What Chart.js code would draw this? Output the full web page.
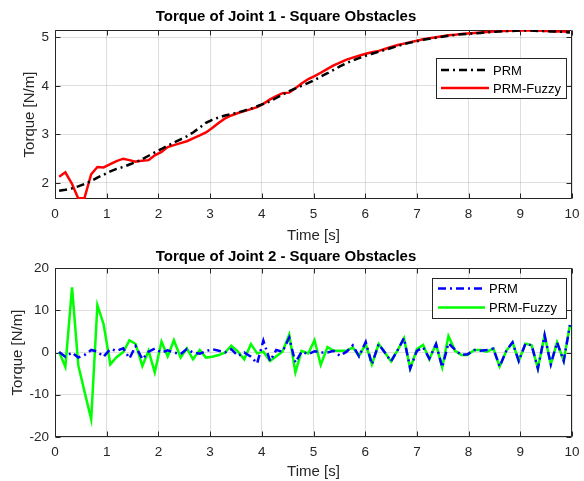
<!DOCTYPE html>
<html>
<head>
<meta charset="utf-8">
<script src="https://cdn.jsdelivr.net/npm/chart.js@4.4.0/dist/chart.umd.min.js"></script>
<style>
  body { margin: 0; background: #fff; }
  .panel { position: absolute; left: 0; }
</style>
</head>
<body>
<canvas id="joint1" class="panel" width="584" height="245" style="top:0"></canvas>
<canvas id="joint2" class="panel" width="584" height="236" style="top:245px"></canvas>
<script>
// sample times [s]
const timeS = [
  0.08, 0.20, 0.33, 0.45, 0.57, 0.70, 0.82, 0.94, 1.07, 1.19,
  1.32, 1.44, 1.56, 1.69, 1.81, 1.93, 2.06, 2.18, 2.30, 2.43,
  2.55, 2.67, 2.80, 2.92, 3.04, 3.17, 3.29, 3.41, 3.54, 3.66,
  3.79, 3.91, 4.03, 4.16, 4.28, 4.40, 4.53, 4.65, 4.77, 4.90,
  5.02, 5.14, 5.27, 5.39, 5.51, 5.64, 5.76, 5.88, 6.01, 6.13,
  6.26, 6.38, 6.50, 6.63, 6.75, 6.87, 7.00, 7.12, 7.24, 7.37,
  7.49, 7.61, 7.74, 7.86, 7.98, 8.11, 8.23, 8.35, 8.48, 8.60,
  8.73, 8.85, 8.97, 9.10, 9.22, 9.34, 9.47, 9.59, 9.71, 9.84,
  9.96
];

// joint 1 torque
const prmJoint1 = [
  1.84, 1.86, 1.89, 1.93, 1.98, 2.04, 2.11, 2.17, 2.24, 2.29,
  2.33, 2.38, 2.43, 2.49, 2.56, 2.63, 2.70, 2.77, 2.83, 2.90,
  2.96, 3.04, 3.14, 3.24, 3.30, 3.35, 3.39, 3.42, 3.45, 3.49,
  3.53, 3.58, 3.63, 3.68, 3.75, 3.82, 3.89, 3.95, 4.00, 4.06,
  4.12, 4.19, 4.26, 4.33, 4.40, 4.47, 4.52, 4.57, 4.62, 4.66,
  4.70, 4.74, 4.78, 4.82, 4.86, 4.89, 4.92, 4.95, 4.97, 4.99,
  5.01, 5.03, 5.05, 5.06, 5.07, 5.08, 5.09, 5.10, 5.11, 5.12,
  5.13, 5.13, 5.14, 5.14, 5.14, 5.13, 5.13, 5.12, 5.12, 5.11,
  5.10
];
const fuzzyJoint1 = [
  2.13, 2.22, 1.98, 1.68, 1.69, 2.18, 2.33, 2.32, 2.39, 2.45,
  2.50, 2.47, 2.44, 2.46, 2.47, 2.57, 2.64, 2.74, 2.78, 2.82,
  2.86, 2.92, 2.98, 3.04, 3.13, 3.24, 3.33, 3.39, 3.44, 3.48,
  3.52, 3.56, 3.63, 3.72, 3.79, 3.85, 3.86, 3.95, 4.05, 4.14,
  4.20, 4.27, 4.35, 4.42, 4.48, 4.54, 4.58, 4.62, 4.66, 4.69,
  4.72, 4.76, 4.80, 4.84, 4.87, 4.90, 4.93, 4.96, 4.98, 5.00,
  5.02, 5.04, 5.05, 5.07, 5.08, 5.09, 5.10, 5.11, 5.12, 5.13,
  5.13, 5.14, 5.14, 5.14, 5.14, 5.14, 5.13, 5.13, 5.12, 5.12,
  5.11
];

// joint 2 torque
const prmJoint2 = [
  0.1, -1.0, 0.0, -1.2, -0.6, 0.6, 0.2, -1.0, 0.8, 0.4,
  1.0, -1.4, 1.5, -1.6, 0.2, 0.9, 0.0, 0.5, 0.0, -0.4,
  0.8, 0.0, -0.3, 0.3, 0.8, 0.4, 0.0, 0.8, -0.8, 0.0,
  -1.0, -2.6, 2.8, -2.0, 0.6, 0.2, 3.5, -2.4, 0.2, -0.4,
  0.3, 0.0, 0.0, 0.4, -0.8, 0.2, 1.7, -0.9, 2.5, -2.8,
  2.0, 0.0, -2.1, 0.6, 3.4, -3.8, 0.4, 1.2, -1.4, 2.0,
  -3.5, 2.2, 0.6, -0.6, -0.4, 0.6, 0.4, 0.6, 0.9, -3.3,
  0.4, 2.4, -2.0, 2.1, 1.7, -3.8, 4.1, -2.8, 2.4, -2.0,
  6.5
];
const fuzzyJoint2 = [
  0.1, -3.4, 15.4, -3.0, -9.2, -15.8, 11.2, 6.7, -2.8, -1.1,
  0.1, 2.9, 2.0, -3.2, 0.4, -4.7, 2.6, -0.9, 2.9, -1.2,
  1.0, -1.6, 0.6, -1.2, -1.0, -0.6, 0.0, 1.6, 0.2, -1.6,
  2.0, -0.2, 0.2, -2.0, -0.9, 0.2, 4.2, -4.7, 0.4, -0.2,
  2.9, -2.9, 1.3, 0.4, 0.4, 0.4, 1.2, -0.8, 2.0, -2.8,
  2.0, 0.0, -2.1, 0.6, 3.4, -3.8, 0.8, 1.8, -1.6, 2.0,
  -3.5, 3.9, 0.4, -0.6, -0.6, 0.6, 0.6, 0.2, 0.9, -3.3,
  0.4, 2.4, -2.0, 2.1, 1.7, -3.8, 4.1, -2.8, 2.4, -2.0,
  6.5
];

// tick labels
const timeTicks = [0, 1, 2, 3, 4, 5, 6, 7, 8, 9, 10];
const joint1Ticks = [2, 3, 4, 5];
const joint2Ticks = [-20, -10, 0, 10, 20];

const FONT = "'Liberation Sans', Arial, Helvetica, sans-serif";
const INK = '#262626';

const toPoints = function(values) {
  return values.map((v, i) => ({ x: timeS[i], y: v }));
};

// matlab style box with inward ticks
const axesBox = {
  id: 'axesBox',
  beforeDatasetsDraw(chart) {
    const { ctx, chartArea: a, scales } = chart;
    const L = Math.round(a.left) + 0.5, R = Math.round(a.right) - 0.5;
    const T = Math.round(a.top) + 0.5, B = Math.round(a.bottom) - 0.5;
    ctx.save();
    ctx.strokeStyle = INK;
    ctx.lineWidth = 1;
    ctx.beginPath();
    scales.x.ticks.forEach(t => {
      const px = Math.round(scales.x.getPixelForValue(t.value)) + 0.5;
      ctx.moveTo(px, B); ctx.lineTo(px, B - 5);
      ctx.moveTo(px, T); ctx.lineTo(px, T + 5);
    });
    scales.y.ticks.forEach(t => {
      const py = Math.round(scales.y.getPixelForValue(t.value)) + 0.5;
      ctx.moveTo(L, py); ctx.lineTo(L + 5, py);
      ctx.moveTo(R, py); ctx.lineTo(R - 5, py);
    });
    ctx.rect(L, T, R - L, B - T);
    ctx.stroke();
    ctx.restore();
  }
};

// legend box drawn inside the axes
const boxLegend = {
  id: 'boxLegend',
  afterDraw(chart, args, opts) {
    const ctx = chart.ctx;
    ctx.save();
    ctx.fillStyle = '#fff';
    ctx.fillRect(opts.x, opts.y, opts.w, opts.h);
    ctx.strokeStyle = INK;
    ctx.lineWidth = 1;
    ctx.strokeRect(opts.x + 0.5, opts.y + 0.5, opts.w, opts.h);
    chart.data.datasets.forEach((ds, i) => {
      const y = opts.rows[i];
      ctx.strokeStyle = ds.borderColor;
      ctx.lineWidth = ds.borderWidth;
      ctx.setLineDash(ds.borderDash || []);
      ctx.beginPath();
      ctx.moveTo(opts.lineX, y);
      ctx.lineTo(opts.lineX + opts.lineW, y);
      ctx.stroke();
      ctx.setLineDash([]);
      ctx.fillStyle = '#000';
      ctx.font = '13px ' + FONT;
      ctx.textBaseline = 'middle';
      ctx.fillText(ds.label, opts.lineX + opts.lineW + 4, y + 1);
    });
    ctx.restore();
  }
};

const makeChart = function(canvas, cfg) {
  return new Chart(canvas, {
    type: 'line',
    data: {
      datasets: [{
        label: 'PRM',
        data: toPoints(cfg.prm),
        borderColor: cfg.prmColor,
        borderWidth: 2.5,
        borderDash: [8, 4, 2, 4],
        pointRadius: 0,
        tension: 0
      }, {
        label: 'PRM-Fuzzy',
        data: toPoints(cfg.fuzzy),
        borderColor: cfg.fuzzyColor,
        borderWidth: 2.5,
        pointRadius: 0,
        tension: 0
      }]
    },
    options: {
      responsive: false,
      animation: false,
      layout: { padding: { left: 0, right: 12, top: 0, bottom: 0 } },
      plugins: {
        legend: { display: false },
        tooltip: { enabled: false },
        title: {
          display: true,
          text: cfg.title,
          color: '#000',
          font: { family: FONT, size: 15, weight: 'bold', lineHeight: 1.2 },
          padding: cfg.titlePad
        },
        boxLegend: cfg.legend
      },
      scales: {
        x: {
          type: 'linear',
          min: 0,
          max: 10,
          afterBuildTicks: s => { s.ticks = timeTicks.map(v => ({ value: v })); },
          afterFit: s => { s.height = cfg.xHeight; s.paddingLeft = 0; s.paddingRight = 0; },
          grid: { color: 'rgba(0,0,0,0.13)', drawTicks: false },
          border: { display: false },
          ticks: { color: INK, padding: 7, maxRotation: 0, font: { family: FONT, size: 13.5 } },
          title: {
            display: true, text: 'Time [s]', color: INK,
            font: { family: FONT, size: 15, lineHeight: 1.2 },
            padding: { top: 0, bottom: 0 }
          }
        },
        y: {
          min: cfg.yMin,
          max: cfg.yMax,
          afterBuildTicks: s => { s.ticks = cfg.yTicks.map(v => ({ value: v })); },
          afterFit: s => { s.width = 55; s.paddingTop = 0; s.paddingBottom = 0; },
          grid: { color: 'rgba(0,0,0,0.13)', drawTicks: false },
          border: { display: false },
          ticks: { color: INK, padding: 6, font: { family: FONT, size: 13.5 } },
          title: {
            display: true, text: 'Torque [N/m]', color: INK,
            font: { family: FONT, size: 15, lineHeight: 1.2 },
            padding: { top: cfg.yTitleOffset, bottom: 0 }
          }
        }
      }
    },
    plugins: [axesBox, boxLegend]
  });
};

makeChart(document.getElementById('joint1'), {
  title: 'Torque of Joint 1 - Square Obstacles',
  titlePad: { top: 8, bottom: 4 },
  prm: prmJoint1, fuzzy: fuzzyJoint1,
  prmColor: '#000000', fuzzyColor: '#ff0000',
  yMin: 1.67, yMax: 5.15, yTicks: joint1Ticks,
  xHeight: 46, yTitleOffset: 21,
  legend: { x: 436, y: 58, w: 130, h: 40, lineX: 441, lineW: 48, rows: [70, 88] }
});

makeChart(document.getElementById('joint2'), {
  title: 'Torque of Joint 2 - Square Obstacles',
  titlePad: { top: 2.5, bottom: 2.5 },
  prm: prmJoint2, fuzzy: fuzzyJoint2,
  prmColor: '#0000ff', fuzzyColor: '#00ff00',
  yMin: -20, yMax: 20, yTicks: joint2Ticks,
  xHeight: 44, yTitleOffset: 9,
  legend: { x: 432, y: 33, w: 134, h: 40, lineX: 438, lineW: 47, rows: [43.5, 62.5] }
});
</script>
</body>
</html>
